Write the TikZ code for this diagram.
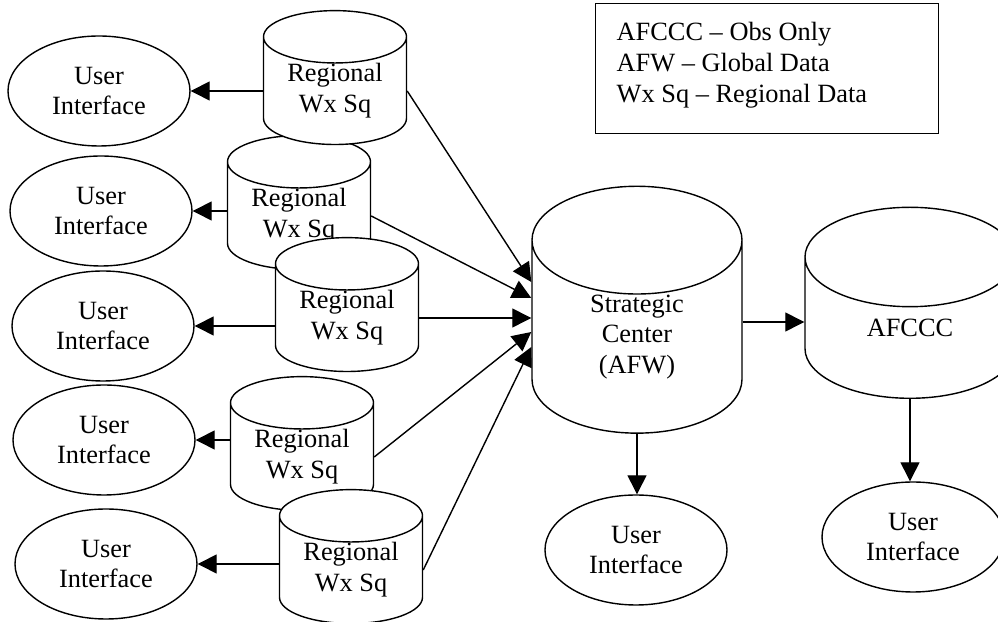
\documentclass[tikz,border=0pt]{standalone}
\usepackage{fontspec}
\setmainfont{Liberation Serif}
\usetikzlibrary{shapes.geometric,arrows.meta}
\tikzset{
  store/.style={cylinder, shape border rotate=90, draw, fill=white, align=center, inner sep=0pt},
  regional/.style={store, aspect=0.55, minimum width=2.86cm, minimum height=2.66cm},
  center/.style={store, aspect=1.15, minimum width=4.2cm, minimum height=3.82cm},
  user/.style={ellipse, draw, fill=white, align=center, minimum width=3.64cm, minimum height=2.2cm, inner sep=0pt},
  arr/.style={-{Triangle[length=0.38cm,width=0.38cm]}},
}
\begin{document}
\begin{tikzpicture}[x=0.2mm, y=-0.2mm, line width=0.8pt, font=\fontsize{15}{17.5}\selectfont]
    \useasboundingbox (0,0) rectangle (998,622);

    % regional squadrons (back ones first)
    \node[regional] (r2) at (299,216) {Regional\\Wx Sq};
    \node[regional] (r4) at (302,457) {Regional\\Wx Sq};
    \node[regional] (r1) at (335,91)  {Regional\\Wx Sq};
    \node[regional] (r3) at (347,318) {Regional\\Wx Sq};
    \node[regional] (r5) at (351,570) {Regional\\Wx Sq};

    \node[user] (u1) at (99,91)  {User\\Interface};
    \node[user] (u2) at (101,211) {User\\Interface};
    \node[user] (u3) at (103,326) {User\\Interface};
    \node[user] (u4) at (104,440) {User\\Interface};
    \node[user] (u5) at (106,564) {User\\Interface};

    \node[center] (afw) at (637,337) {Strategic\\Center\\(AFW)};
    \node[center] (afccc) at (910,328) {AFCCC};
    \node[user] (uafw) at (636,550) {User\\Interface};
    \node[user] (uafccc) at (913,537) {User\\Interface};

    % legend
    \node[draw, minimum width=6.86cm, minimum height=2.6cm, anchor=north west] (key) at (595,3) {};
    \node[anchor=north west, align=left, inner sep=0pt] (keytext) at ([xshift=0.42cm, yshift=-0.38cm]key.north west)
        {AFCCC -- Obs Only\\AFW -- Global Data\\Wx Sq -- Regional Data};

    \draw[arr] (r1.west |- u1.east) -- (u1.east);
    \draw[arr] (r2.west |- u2.east) -- (u2.east);
    \draw[arr] (r3.west |- u3.east) -- (u3.east);
    \draw[arr] (r4.west |- u4.east) -- (u4.east);
    \draw[arr] (r5.west |- u5.east) -- (u5.east);

    \draw[arr] (r1.east) -- ([yshift=1.1cm]afw.west);
    \draw[arr] (r2.east) -- ([yshift=0.78cm]afw.west);
    \draw[arr] (r3.east) -- (r3.east -| afw.west);
    \draw[arr] (r4.east) -- ([yshift=0.1cm]afw.west);
    \draw[arr] (r5.east) -- ([yshift=-0.2cm]afw.west);

    \draw[arr] ([yshift=0.12cm]afccc.west -| afw.east) -- ([yshift=0.12cm]afccc.west);
    \draw[arr] (afw.south) -- (afw.south |- uafw.north);
    \draw[arr] (afccc.south) -- (afccc.south |- uafccc.north);
\end{tikzpicture}
\end{document}
